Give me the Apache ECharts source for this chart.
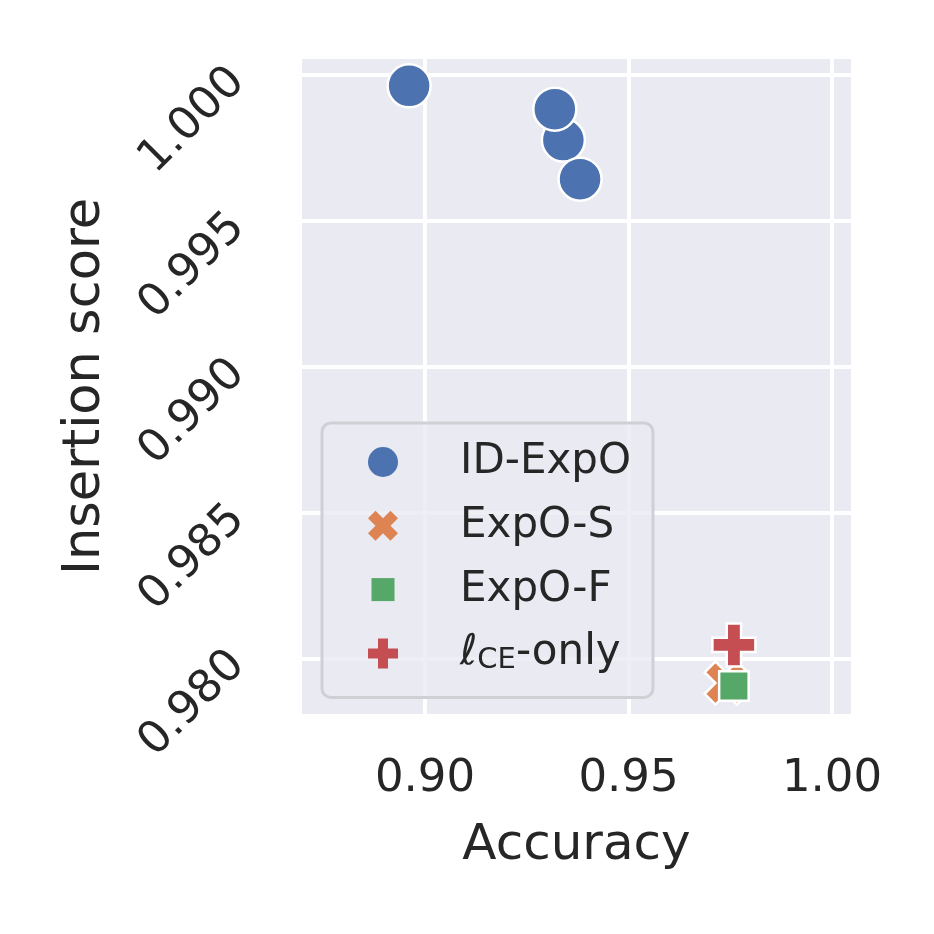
<!DOCTYPE html>
<html>
<head>
  <meta charset="utf-8">
  <script src="https://cdn.jsdelivr.net/npm/echarts@6/dist/echarts.min.js"></script>
  <style>
    html, body { margin: 0; padding: 0; background: #fff; }
    #chart { width: 934px; height: 934px; }
  </style>
</head>
<body>
<div id="chart"></div>
<script>
  // values
  const seriesNames = ['ID-ExpO', 'ExpO-S', 'ExpO-F', 'ℓCE-only'];
  const idExpoAcc = [0.8961, 0.9340, 0.9319, 0.9381];
  const idExpoIns = [0.99963, 0.99777, 0.99883, 0.99643];
  const expoSAcc = [0.9740];
  const expoSIns = [0.97915];
  const expoFAcc = [0.9759];
  const expoFIns = [0.97905];
  const ceOnlyAcc = [0.9759];
  const ceOnlyIns = [0.98046];
  const xTicks = [0.90, 0.95, 1.00];
  const yTicks = [0.980, 0.985, 0.990, 0.995, 1.000];

  const colors = ['#4C72B0', '#DD8452', '#55A868', '#C44E52'];
  const font = 'DejaVu Sans';
  const textColor = '#262626';

  // marker shapes (matplotlib 'X' and 'P')
  const xPath = 'path://M1 0L2 1L3 0L4 1L3 2L4 3L3 4L2 3L1 4L0 3L1 2L0 1Z';
  const plusPath = 'path://M2 0L4 0L4 2L6 2L6 4L4 4L4 6L2 6L2 4L0 4L0 2L2 2Z';

  // legend icons drawn inside a 113x44 box so the text sits far to the right
  const legendBox = 'M0 0M113 44';
  const legendIcons = [
    'path://' + legendBox + 'M56 22A15 15 0 1 1 26 22A15 15 0 1 1 56 22Z',
    'path://' + legendBox + 'M33.5 7L41 14.5L48.5 7L56 14.5L48.5 22L56 29.5L48.5 37L41 29.5L33.5 37L26 29.5L33.5 22L26 14.5Z',
    'path://' + legendBox + 'M29.5 10.5L52.5 10.5L52.5 33.5L29.5 33.5Z',
    'path://' + legendBox + 'M36 7L46 7L46 17L56 17L56 27L46 27L46 37L36 37L36 27L26 27L26 17L36 17Z'
  ];

  function zip(xs, ys) {
    return xs.map((x, i) => [x, ys[i]]);
  }

  function scatter(name, data, symbol, size, color) {
    return {
      name: name,
      type: 'scatter',
      data: data,
      symbol: symbol,
      symbolSize: size,
      itemStyle: {
        color: color,
        borderColor: '#ffffff',
        borderWidth: 2.5,
        opacity: 1
      },
      emphasis: { disabled: true }
    };
  }

  const chart = echarts.init(document.getElementById('chart'));
  const option = {
    animation: false,
    backgroundColor: '#ffffff',
    textStyle: { fontFamily: font },
    grid: {
      left: 302,
      top: 59,
      right: 83,
      bottom: 220,
      show: true,
      backgroundColor: '#EAEAF2',
      borderWidth: 0,
      outerBoundsMode: 'none'
    },
    xAxis: {
      type: 'value',
      min: 0.86978,
      max: 1.00467,
      name: 'Accuracy',
      nameLocation: 'middle',
      nameGap: 107,
      nameTextStyle: { fontSize: 50, color: textColor, fontFamily: font },
      axisLine: { show: false },
      axisTick: { show: false, customValues: xTicks },
      axisLabel: {
        customValues: xTicks,
        margin: 43,
        fontSize: 45,
        color: textColor,
        fontFamily: font,
        formatter: v => v.toFixed(2)
      },
      splitLine: { show: true, lineStyle: { color: '#ffffff', width: 4 } }
    },
    yAxis: {
      type: 'value',
      min: 0.97809,
      max: 1.00055,
      name: 'Insertion score',
      nameLocation: 'middle',
      nameRotate: 90,
      nameGap: 191,
      nameTextStyle: { fontSize: 51, color: textColor, fontFamily: font },
      axisLine: { show: false },
      axisTick: { show: false, customValues: yTicks },
      axisLabel: {
        customValues: yTicks,
        rotate: 45,
        margin: 64,
        fontSize: 45,
        color: textColor,
        fontFamily: font,
        formatter: v => v.toFixed(3)
      },
      splitLine: { show: true, lineStyle: { color: '#ffffff', width: 4 } }
    },
    legend: {
      orient: 'vertical',
      left: 322,
      top: 423,
      padding: [17, 22, 22, 20],
      itemWidth: 113,
      itemHeight: 44,
      itemGap: 19.8,
      selectedMode: false,
      backgroundColor: 'rgba(234,234,242,0.8)',
      borderColor: '#cfcfd4',
      borderWidth: 3,
      borderRadius: 9,
      itemStyle: { borderWidth: 0 },
      data: seriesNames.map((n, i) => ({ name: n, icon: legendIcons[i] })),
      formatter: function (name) {
        if (name === 'ℓCE-only') {
          return '{ell|ℓ}{sub|CE}{main|-only}';
        }
        return name;
      },
      textStyle: {
        fontSize: 42,
        color: textColor,
        fontFamily: font,
        rich: {
          main: { fontSize: 42, lineHeight: 44, color: textColor, fontFamily: font },
          ell: { fontSize: 42, lineHeight: 44, color: textColor, fontFamily: font, fontStyle: 'italic' },
          sub: { fontSize: 29, lineHeight: 16, verticalAlign: 'bottom', color: textColor, fontFamily: font }
        }
      }
    },
    series: [
      scatter(seriesNames[0], zip(idExpoAcc, idExpoIns), 'circle', 43, colors[0]),
      scatter(seriesNames[1], zip(expoSAcc, expoSIns), xPath, 43, colors[1]),
      scatter(seriesNames[2], zip(expoFAcc, expoFIns), 'rect', 29.5, colors[2]),
      scatter(seriesNames[3], zip(ceOnlyAcc, ceOnlyIns), plusPath, 43, colors[3])
    ]
  };
  chart.setOption(option);
</script>
</body>
</html>
